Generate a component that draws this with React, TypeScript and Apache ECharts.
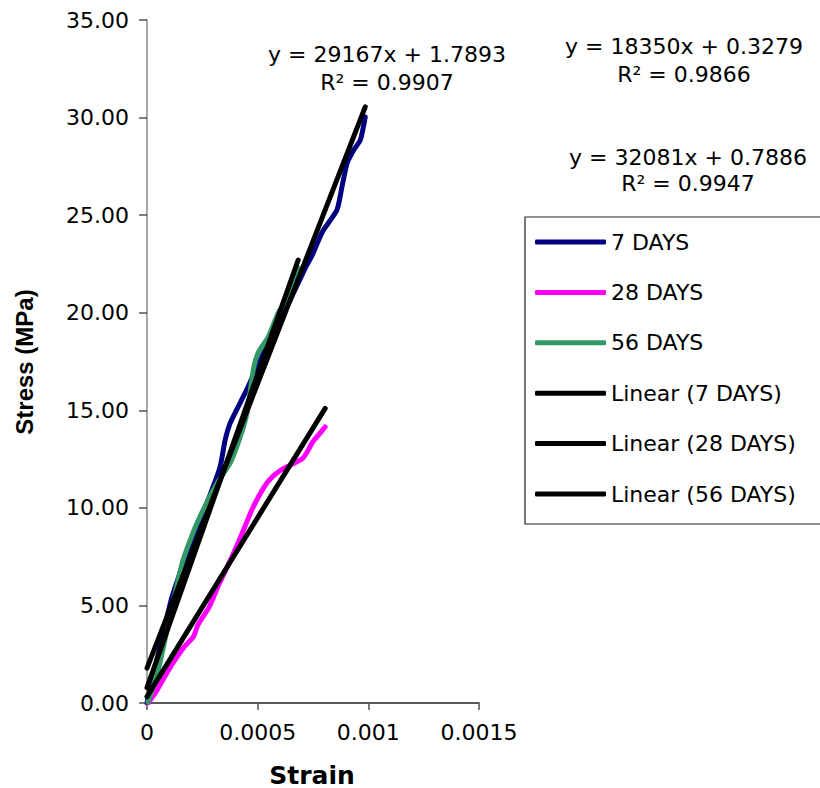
import React, { useEffect, useRef } from "react";
import * as echarts from "echarts";

const seriesNames = ["7 DAYS", "28 DAYS", "56 DAYS"];
const seriesColors = ["#000080", "#FF00FF", "#339966"];

const strain7 = [0, 0.0000226, 0.0000498, 0.0000814, 0.000113, 0.000149, 0.000186, 0.00024, 0.000271, 0.00033, 0.000353, 0.000376, 0.000407, 0.000452, 0.000511, 0.000579, 0.000647, 0.000715, 0.000747, 0.000792, 0.000858, 0.000881, 0.000904, 0.000934, 0.000964, 0.000986];
const stress7 = [0, 1.18, 2.46, 4.0, 5.43, 6.66, 7.84, 9.38, 10.25, 12.09, 13.48, 14.35, 15.07, 16.09, 17.58, 19.11, 20.65, 22.29, 22.96, 24.14, 25.26, 26.46, 27.66, 28.34, 28.85, 30.03];

const strain28 = [0.000005, 0.00004, 0.00008, 0.00012, 0.00017, 0.00021, 0.00023, 0.00028, 0.00033, 0.00038, 0.00043, 0.00047, 0.00051, 0.00055, 0.0006, 0.00065, 0.0007, 0.00072, 0.00075, 0.00078, 0.000805];
const stress28 = [0, 0.55, 1.35, 2.1, 2.9, 3.4, 4.0, 4.9, 6.2, 7.4, 8.7, 9.8, 10.7, 11.4, 11.9, 12.2, 12.5, 12.8, 13.4, 13.8, 14.15];

const strain56 = [0.0000045, 0.000023, 0.000054, 0.000081, 0.000113, 0.000163, 0.000226, 0.000317, 0.000376, 0.000421, 0.000452, 0.00048, 0.000502, 0.000548, 0.000593, 0.000656, 0.000683];
const stress56 = [0.05, 0.67, 1.84, 3.23, 4.92, 7.33, 9.22, 11.27, 12.3, 13.63, 14.86, 17.06, 17.94, 18.76, 19.99, 21.16, 22.3];

const trendSlopes = [29167, 18350, 32081];
const trendIntercepts = [1.7893, 0.3279, 0.7886];
const trendR2 = ["0.9907", "0.9866", "0.9947"];

const strainTicks = [0, 0.0005, 0.001, 0.0015];
const stressMax = 35;
const stressStep = 5;

const FONT = "DejaVu Sans";

export default function App() {
  const ref = useRef<HTMLDivElement>(null);
  useEffect(() => {
    if (!ref.current) return;
    const chart = echarts.init(ref.current, null, { renderer: "svg" });
    const strains = [strain7, strain28, strain56];
    const stresses = [stress7, stress28, stress56];

    const dataSeries = seriesNames.map((name, i) => ({
      name,
      type: "line",
      smooth: 0.2,
      symbol: "none",
      data: strains[i].map((x, k) => [x, stresses[i][k]]),
      lineStyle: { color: seriesColors[i], width: 5, cap: "round", join: "round" },
      itemStyle: { color: seriesColors[i] },
      z: 2 + i,
    }));

    const trendSeries = seriesNames.map((name, i) => {
      const xmax = Math.max(...strains[i]);
      return {
        name: `Linear (${name})`,
        type: "line",
        symbol: "none",
        data: [
          [0, trendIntercepts[i]],
          [xmax, trendSlopes[i] * xmax + trendIntercepts[i]],
        ],
        lineStyle: { color: "#000", width: 5, cap: "round" },
        itemStyle: { color: "#000" },
        z: 6,
      };
    });

    const eqPos = [
      { x: 387, y: 54, ry: 82 },
      { x: 684, y: 46, ry: 74 },
      { x: 688, y: 157, ry: 183 },
    ];
    const eqTexts: any[] = [];
    eqPos.forEach((p, i) => {
      eqTexts.push({
        type: "text",
        x: p.x,
        y: p.y,
        style: {
          text: `y = ${trendSlopes[i]}x + ${trendIntercepts[i]}`,
          font: `22px "${FONT}"`,
          fill: "#000",
          align: "center",
          verticalAlign: "middle",
        },
      });
      eqTexts.push({
        type: "text",
        x: p.x,
        y: p.ry,
        style: {
          text: `R² = ${trendR2[i]}`,
          font: `22px "${FONT}"`,
          fill: "#000",
          align: "center",
          verticalAlign: "middle",
        },
      });
    });

    chart.setOption({
      animation: false,
      backgroundColor: "#fff",
      grid: { left: 147, right: 341, top: 20, bottom: 85 },
      xAxis: {
        type: "value",
        min: strainTicks[0],
        max: strainTicks[strainTicks.length - 1],
        interval: strainTicks[1] - strainTicks[0],
        axisLine: { show: true, lineStyle: { color: "#222", width: 1.5 } },
        axisTick: { show: true, length: 7, lineStyle: { color: "#555", width: 1.5 } },
        axisLabel: {
          margin: 18,
          color: "#000",
          fontFamily: FONT,
          fontSize: 22,
          formatter: (v: number) => String(parseFloat(v.toFixed(6))),
        },
        splitLine: { show: false },
      },
      yAxis: {
        type: "value",
        min: 0,
        max: stressMax,
        interval: stressStep,
        axisLine: { show: true, lineStyle: { color: "#888", width: 1.5 } },
        axisTick: { show: true, length: 8, lineStyle: { color: "#555", width: 1.5 } },
        axisLabel: {
          margin: 18,
          color: "#000",
          fontFamily: FONT,
          fontSize: 22,
          formatter: (v: number) => v.toFixed(2),
        },
        splitLine: { show: false },
      },
      legend: {
        orient: "vertical",
        left: 535,
        top: 231,
        padding: 0,
        itemWidth: 71,
        itemHeight: 5,
        itemGap: 28.4,
        icon: "roundRect",
        textStyle: { fontFamily: FONT, fontSize: 22, color: "#000", lineHeight: 22 },
        data: [...seriesNames, ...seriesNames.map((n) => `Linear (${n})`)],
      },
      graphic: [
        {
          type: "rect",
          shape: { x: 525, y: 217, width: 320, height: 307 },
          style: { fill: "none", stroke: "#222", lineWidth: 1.2 },
          z: 0,
        },
        {
          type: "text",
          x: 312,
          y: 775,
          style: {
            text: "Strain",
            font: `bold 25px "${FONT}"`,
            fill: "#000",
            align: "center",
            verticalAlign: "middle",
          },
        },
        {
          type: "text",
          x: 24,
          y: 362,
          rotation: Math.PI / 2,
          style: {
            text: "Stress (MPa)",
            font: `bold 24px "Liberation Sans"`,
            fill: "#000",
            align: "center",
            verticalAlign: "middle",
          },
        },
        ...eqTexts,
      ],
      series: [...dataSeries, ...trendSeries],
    });
    return () => chart.dispose();
  }, []);
  return (
    <div
      ref={ref}
      style={{ position: "fixed", left: 0, top: 0, width: 820, height: 788, background: "#fff" }}
    />
  );
}
